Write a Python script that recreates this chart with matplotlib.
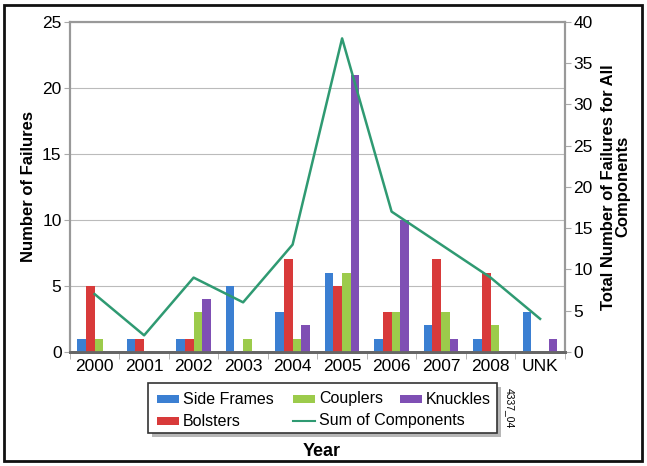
import numpy as np
import matplotlib.pyplot as plt
from matplotlib.patches import Rectangle

plt.rcParams['font.family'] = ['Liberation Sans', 'DejaVu Sans']

years = ['2000', '2001', '2002', '2003', '2004', '2005', '2006', '2007', '2008', 'UNK']
side_frames = [1, 1, 1, 5, 3, 6, 1, 2, 1, 3]
bolsters = [5, 1, 1, 0, 7, 5, 3, 7, 6, 0]
couplers = [1, 0, 3, 1, 1, 6, 3, 3, 2, 0]
knuckles = [0, 0, 4, 0, 2, 21, 10, 1, 0, 1]
sum_comp = [7, 2, 9, 6, 13, 38, 17, 13, 9, 4]

colors = {'Side Frames': '#3b7fd2', 'Bolsters': '#d83a3a',
          'Couplers': '#9ccb4b', 'Knuckles': '#7f4fb4'}
line_color = '#2f9a72'

fig = plt.figure(figsize=(6.47, 4.66), dpi=100)
ax = fig.add_axes([0.108, 0.245, 0.765, 0.708])
ax2 = ax.twinx()

x = np.arange(len(years))
w = 0.175
series = [(side_frames, 'Side Frames'), (bolsters, 'Bolsters'),
          (couplers, 'Couplers'), (knuckles, 'Knuckles')]
for i, (vals, lab) in enumerate(series):
    ax.bar(x + (i - 1.5) * w, vals, w, color=colors[lab], label=lab, zorder=3)

ax2.plot(x, sum_comp, color=line_color, lw=1.8, label='Sum of Components')

ax.set_xlim(-0.5, len(years) - 0.5)
ax.set_ylim(0, 25)
ax.set_yticks(range(0, 26, 5))
ax2.set_ylim(0, 40)
ax2.set_yticks(range(0, 41, 5))
# category labels at centres, tick marks at the boundaries
ax.set_xticks(x)
ax.set_xticklabels(years)
ax.set_xticks(np.arange(len(years) + 1) - 0.5, minor=True)
ax.tick_params(axis='x', which='major', length=0, pad=5)
ax.tick_params(axis='x', which='minor', length=5, color='#aaaaaa')
ax.yaxis.grid(True, color='#bbbbbb', lw=0.8, zorder=0)
ax.set_axisbelow(True)

for a in (ax, ax2):
    a.tick_params(labelsize=12.5, color='#aaaaaa')
    a.tick_params(axis='y', length=4, pad=2)
    a.spines['top'].set_color('#999999')
    a.spines['top'].set_linewidth(1.5)
    a.spines['left'].set_color('#999999')
    a.spines['right'].set_color('#999999')
    a.spines['left'].set_linewidth(1.5)
    a.spines['right'].set_linewidth(1.5)
    a.spines['bottom'].set_color('#666666')
    a.spines['bottom'].set_linewidth(2)

ax.set_ylabel('Number of Failures', fontsize=12, fontweight='bold', labelpad=4)
ax2.set_ylabel('Total Number of Failures for All\nComponents', fontsize=12,
               fontweight='bold', labelpad=6, linespacing=0.95)

# legend drawn by hand in pixel coordinates so the columns can overlap like the original
lax = fig.add_axes([0, 0, 1, 1], zorder=5)
lax.set_xlim(0, 647)
lax.set_ylim(466, 0)
lax.axis('off')
lax.add_patch(Rectangle((152, 387), 349, 50, facecolor='#888888', edgecolor='none', alpha=0.6))
lax.add_patch(Rectangle((148, 383), 349, 50, facecolor='white', edgecolor='#333333', lw=1.2))
legend_items = [('Side Frames', 157, 399), ('Couplers', 293, 399), ('Knuckles', 400, 399),
                ('Bolsters', 157, 421)]
for lab, lx, ly in legend_items:
    lax.add_patch(Rectangle((lx, ly - 4), 22, 8, facecolor=colors[lab], edgecolor='none'))
    lax.text(lx + 26, ly, lab, fontsize=11.5, va='center', ha='left')
lax.plot([293, 315], [421, 421], color=line_color, lw=1.5)
lax.text(319, 421, 'Sum of Components', fontsize=11.5, va='center', ha='left')
lax.text(510, 408, '4337_04', rotation=270, ha='center', va='center', fontsize=7.5)
lax.text(322, 452, 'Year', ha='center', va='center', fontsize=13, fontweight='bold')
lax.add_patch(Rectangle((4, 5), 638, 456, fill=False, edgecolor='#111111', lw=2))

fig.savefig('out.png', dpi=100)
